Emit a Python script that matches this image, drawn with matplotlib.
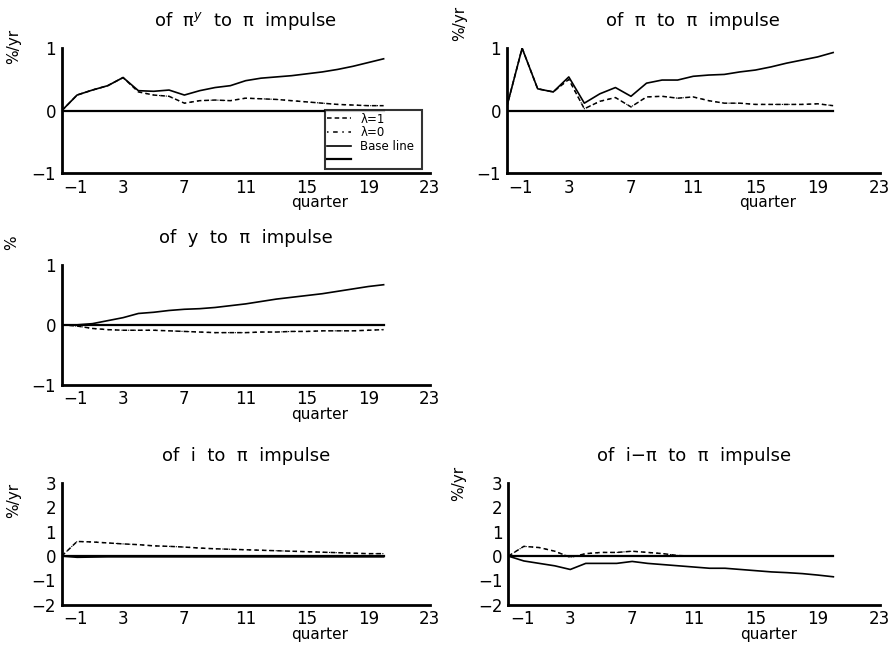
import matplotlib
matplotlib.use('Agg')
import matplotlib.pyplot as plt
import matplotlib.transforms as mtransforms
from matplotlib.lines import Line2D

plt.rcParams['font.family'] = ['DejaVu Sans']
plt.rcParams['mathtext.fontset'] = 'dejavusans'

# quarters -1 .. 20
quarters = list(range(-1, 21))
xticks = [-1, 3, 7, 11, 15, 19, 23]

# response of pi^y to pi impulse
piy_base = [0.0, 0.25, 0.33, 0.40, 0.53, 0.32, 0.31, 0.33, 0.25, 0.32, 0.37,
            0.40, 0.48, 0.52, 0.54, 0.56, 0.59, 0.62, 0.66, 0.71, 0.77, 0.83]
piy_lam = [0.0, 0.25, 0.33, 0.40, 0.53, 0.30, 0.25, 0.23, 0.12, 0.16, 0.17,
           0.16, 0.20, 0.19, 0.18, 0.16, 0.14, 0.12, 0.10, 0.09, 0.08, 0.08]

# response of pi to pi impulse
pi_base = [0.05, 1.00, 0.35, 0.30, 0.54, 0.12, 0.27, 0.37, 0.23, 0.44, 0.49, 0.49,
           0.55, 0.57, 0.58, 0.62, 0.65, 0.70, 0.76, 0.81, 0.86, 0.93]
pi_lam = [0.05, 1.00, 0.35, 0.30, 0.50, 0.03, 0.15, 0.21, 0.06, 0.22, 0.23, 0.20,
          0.22, 0.16, 0.12, 0.12, 0.10, 0.10, 0.10, 0.10, 0.11, 0.08]

# response of y to pi impulse
y_base = [0.0, 0.0, 0.02, 0.07, 0.12, 0.19, 0.21, 0.24, 0.26, 0.27, 0.29, 0.32,
          0.35, 0.39, 0.43, 0.46, 0.49, 0.52, 0.56, 0.60, 0.64, 0.67]
y_lam = [0.0, -0.02, -0.06, -0.08, -0.09, -0.09, -0.09, -0.10, -0.11, -0.12, -0.13, -0.13,
         -0.13, -0.12, -0.12, -0.11, -0.11, -0.10, -0.10, -0.10, -0.09, -0.08]

# response of i to pi impulse
i_base = [0.0, -0.05, -0.04, -0.03, -0.03, -0.03, -0.03, -0.03, -0.03, -0.03, -0.03, -0.03,
          -0.03, -0.03, -0.03, -0.03, -0.03, -0.03, -0.03, -0.03, -0.03, -0.03]
i_lam = [0.0, 0.60, 0.58, 0.54, 0.50, 0.47, 0.42, 0.40, 0.37, 0.33, 0.30, 0.28,
         0.26, 0.24, 0.22, 0.20, 0.18, 0.16, 0.14, 0.12, 0.10, 0.10]

# response of i-pi to pi impulse
r_base = [0.0, -0.20, -0.30, -0.40, -0.55, -0.30, -0.30, -0.30, -0.22, -0.30, -0.35, -0.40,
          -0.45, -0.50, -0.50, -0.55, -0.60, -0.65, -0.68, -0.72, -0.78, -0.85]
r_lam = [0.0, 0.40, 0.35, 0.20, -0.05, 0.10, 0.15, 0.15, 0.20, 0.15, 0.10, 0.02,
         0.0, 0.0, 0.0, 0.0, 0.0, 0.0, 0.0, 0.0, 0.0, 0.0]

panels = [
    (r"of  π$^{y}$  to  π  impulse", "%/yr", piy_base, piy_lam, (-1, 1), [-1, 0, 1]),
    ("of  π  to  π  impulse", "%/yr", pi_base, pi_lam, (-1, 1), [-1, 0, 1]),
    ("of  y  to  π  impulse", "%", y_base, y_lam, (-1, 1), [-1, 0, 1]),
    ("of  i  to  π  impulse", "%/yr", i_base, i_lam, (-2, 3), [-2, -1, 0, 1, 2, 3]),
    ("of  i−π  to  π  impulse", "%/yr", r_base, r_lam, (-2, 3), [-2, -1, 0, 1, 2, 3]),
]

# axes rectangles in figure fraction, and y label positions (axes coords)
rects = [
    [0.069, 0.734, 0.411, 0.192],
    [0.566, 0.734, 0.417, 0.192],
    [0.069, 0.409, 0.411, 0.184],
    [0.069, 0.071, 0.411, 0.187],
    [0.568, 0.071, 0.415, 0.187],
]
ylab_pos = [(-0.11, 1.01), (-0.105, 1.2), (-0.115, 1.19), (-0.11, 0.86), (-0.115, 1.0)]

fig = plt.figure(figsize=(8.95, 6.51), dpi=100)

for k, (title, ylab, base, lam, ylim, yticks) in enumerate(panels):
    ax = fig.add_axes(rects[k])
    ax.axhline(0, xmin=0, xmax=(20 - (-1)) / 24, color='black', lw=1.6)
    ax.plot(quarters, base, color='black', lw=1.2)
    ax.plot(quarters, lam, color='black', lw=1.1, ls=(0, (3, 2)))
    ax.plot(quarters, lam, color='black', lw=0.8, ls=(0, (1, 5)))
    ax.set_xlim(-1, 23)
    ax.set_ylim(*ylim)
    ax.set_xticks(xticks)
    ax.set_xticklabels(['−1'] + [str(t) for t in xticks[1:]])
    ax.set_yticks(yticks)
    ax.set_yticklabels([str(t).replace('-', '−') for t in yticks])
    for s in ['top', 'right']:
        ax.spines[s].set_visible(False)
    for s in ['left', 'bottom']:
        ax.spines[s].set_linewidth(2)
    ax.tick_params(length=0, labelsize=12, pad=4)
    # shift the first x tick label right, off the y axis
    lbl = ax.get_xticklabels()[0]
    lbl.set_transform(lbl.get_transform() + mtransforms.ScaledTranslation(10 / 72, 0, fig.dpi_scale_trans))
    ax.set_title(title, fontsize=13, pad=16)
    ax.set_ylabel(ylab, fontsize=11)
    ax.yaxis.set_label_coords(*ylab_pos[k])
    ax.set_xlabel('quarter', fontsize=11, x=0.70, labelpad=-1)

    if k == 0:
        handles = [
            Line2D([], [], color='black', lw=1.1, ls=(0, (3, 2))),
            Line2D([], [], color='black', lw=1.1, ls=(0, (1, 3, 3, 3))),
            Line2D([], [], color='black', lw=1.2),
            Line2D([], [], color='black', lw=1.6),
        ]
        leg = ax.legend(handles, ['λ=1', 'λ=0', 'Base line', ''],
                        loc='upper left', bbox_to_anchor=(0.715, 0.056, 0.265, 0.448),
                        mode='expand',
                        fontsize=8.5, frameon=True, fancybox=False,
                        handlelength=2.0, handletextpad=0.8, borderpad=0.2,
                        labelspacing=0.05, borderaxespad=0)
        leg.get_frame().set_edgecolor('black')
        leg.get_frame().set_linewidth(1.5)

fig.savefig('out.png', dpi=100)
